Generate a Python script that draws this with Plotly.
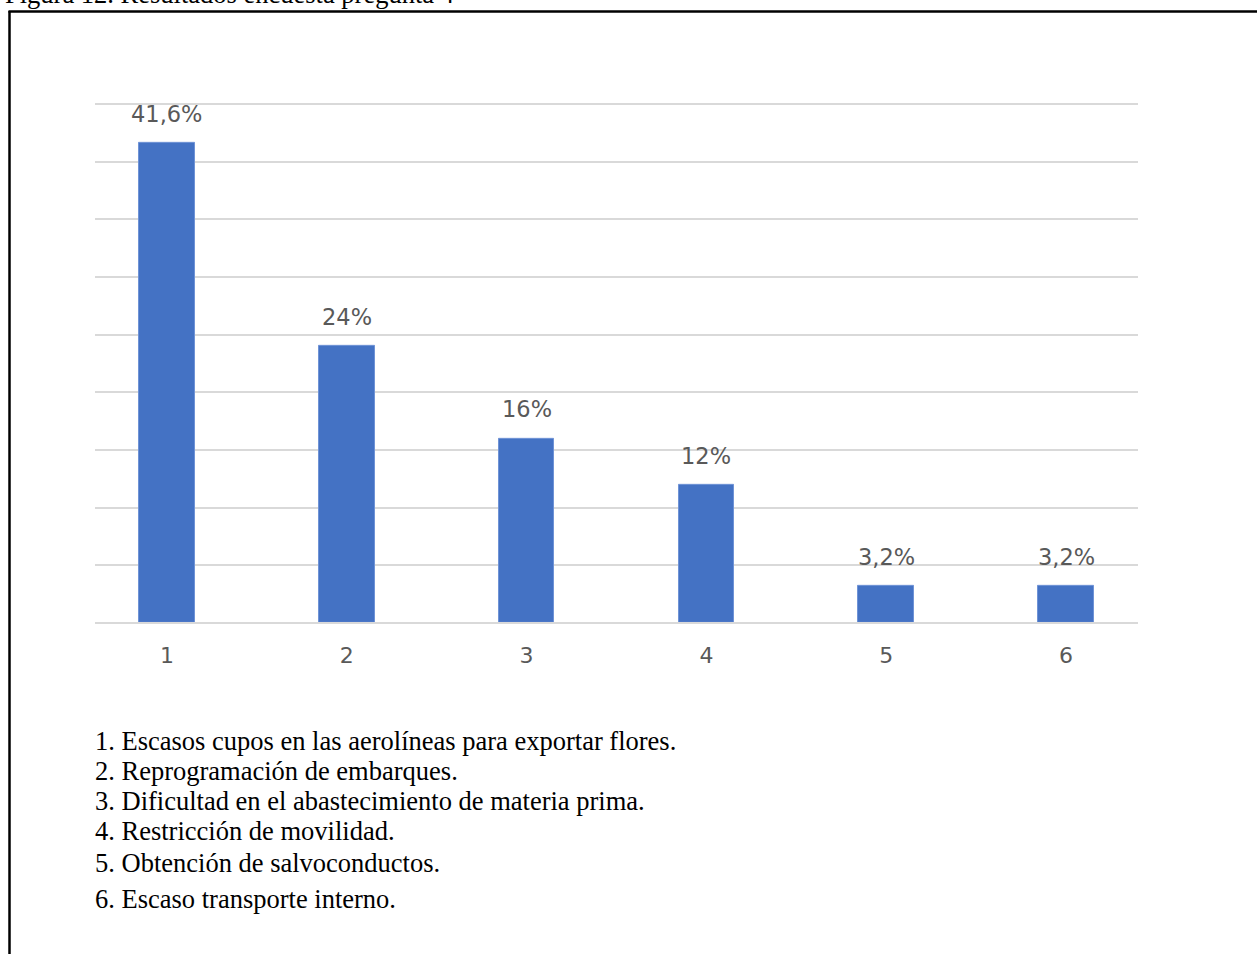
import plotly.graph_objects as go

categories = [1, 2, 3, 4, 5, 6]
values = [41.6, 24, 16, 12, 3.2, 3.2]
value_labels = ["41,6%", "24%", "16%", "12%", "3,2%", "3,2%"]
tick_labels = ["1", "2", "3", "4", "5", "6"]
legend_lines = [
    "1. Escasos cupos en las aerolíneas para exportar flores.",
    "2. Reprogramación de embarques.",
    "3. Dificultad en el abastecimiento de materia prima.",
    "4. Restricción de movilidad.",
    "5. Obtención de salvoconductos.",
    "6. Escaso transporte interno.",
]
legend_y_px = [741, 771, 801, 831, 863, 899]
title_text = "Figura 12. Resultados encuesta pregunta 4"

W, H = 1257, 954

def py(p):
    return 1 - p / H

def px(p):
    return p / W

fig = go.Figure()
fig.add_trace(go.Bar(
    x=categories, y=values, width=0.31,
    marker=dict(color="#4472C4", line=dict(color="#6f93d6", width=1)),
    hoverinfo="skip",
))

annotations = []
for c, v, t in zip(categories, values, value_labels):
    annotations.append(dict(
        x=c, y=v, xref="x", yref="y", text=t, showarrow=False,
        yanchor="middle", yshift=29,
        font=dict(family="DejaVu Sans", size=22.5, color="#595959"),
    ))
for line, yp in zip(legend_lines, legend_y_px):
    annotations.append(dict(
        x=px(93), y=py(yp), xref="paper", yref="paper", text=line,
        showarrow=False, xanchor="left", yanchor="middle",
        font=dict(family="Liberation Serif", size=26.5, color="#000000"),
    ))
annotations.append(dict(
    x=px(3), y=py(-6.5), xref="paper", yref="paper", text=title_text,
    showarrow=False, xanchor="left", yanchor="middle",
    font=dict(family="Liberation Serif", size=26.5, color="#000000"),
))

shapes = [
    dict(type="line", xref="paper", yref="paper", x0=px(9.5), x1=px(9.5),
         y0=py(11), y1=py(H + 5), line=dict(color="#000000", width=2.5)),
    dict(type="line", xref="paper", yref="paper", x0=px(8.5), x1=px(W + 5),
         y0=py(11.5), y1=py(11.5), line=dict(color="#000000", width=2.5)),
    dict(type="line", xref="paper", yref="paper", x0=px(95), x1=px(1138),
         y0=py(623), y1=py(623), line=dict(color="#d9d9d9", width=2)),
]

fig.update_layout(
    width=W, height=H,
    margin=dict(l=0, r=0, t=0, b=0),
    paper_bgcolor="white", plot_bgcolor="white",
    showlegend=False,
    annotations=annotations,
    shapes=shapes,
    bargap=0,
    xaxis=dict(
        domain=[px(95), px(1138)], range=[0.6, 6.4],
        tickmode="array", tickvals=categories, ticktext=tick_labels,
        showgrid=False, zeroline=False, showline=False,
        ticks="outside", ticklen=13, tickcolor="rgba(0,0,0,0)",
        tickfont=dict(family="DejaVu Sans", size=22, color="#595959"),
    ),
    yaxis=dict(
        domain=[py(623), py(102.85)], range=[0, 45.1], dtick=5,
        tickmode="linear", tick0=0,
        showgrid=True, gridcolor="#d9d9d9", gridwidth=2,
        zeroline=False, showline=False, showticklabels=False,
    ),
)

fig.write_html("out.html", config={"displayModeBar": False},
               post_script="document.body.style.margin='0';")
